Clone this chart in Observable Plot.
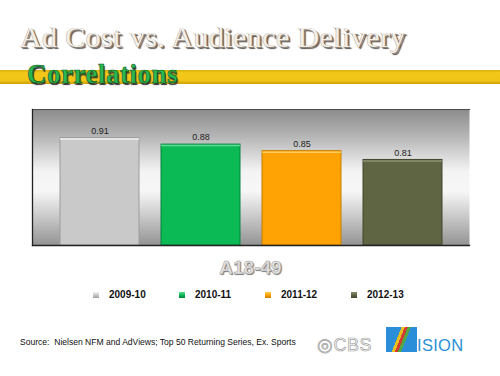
<!DOCTYPE html>
<html>
<head>
<meta charset="utf-8">
<script src="https://cdn.jsdelivr.net/npm/d3@7"></script>
<script src="https://cdn.jsdelivr.net/npm/@observablehq/plot@0.6"></script>
<style>
  html, body { margin: 0; padding: 0; background: #ffffff; }
  #page { position: relative; width: 500px; height: 376px; overflow: hidden; background: #fff; font-family: "Liberation Sans", Arial, sans-serif; }
  #title { position: absolute; left: 20px; top: 22px; font-family: "Liberation Serif", "Times New Roman", serif; font-size: 30px; line-height: 30px; letter-spacing: 0.4px; color: #f2eee8; white-space: nowrap;
    text-shadow: 1px 1px 0 #8c827a, 2px 2px 1px #5a514b, -0.5px -0.5px 0 #b8b0a8; }
  #band { position: absolute; left: 0; top: 70px; width: 500px; height: 14px; background: linear-gradient(#d9ae0a, #f3c81a 20%, #f2c417 75%, #c89f08); }
  #subtitle { position: absolute; left: 27px; top: 61px; font-family: "Liberation Serif", "Times New Roman", serif; font-weight: bold; font-size: 27px; line-height: 27px; letter-spacing: 0.5px; color: #2bb64f; white-space: nowrap;
    -webkit-text-stroke: 0.6px #0b5a24; text-shadow: 1px 1.5px 1px #333; }
  #chart { position: absolute; left: 0; top: 100px; }
  #group { position: absolute; left: 0; width: 501px; top: 258px; text-align: center; font-family: "Liberation Sans", Arial, sans-serif; font-weight: bold; font-size: 19px; line-height: 20px; color: #e2e2e2;
    -webkit-text-stroke: 0.5px #9a9a9a; text-shadow: 1px 1px 1px #777; }
  #legend { position: absolute; left: 93px; top: 288px; display: flex; }
  .item { width: 86px; display: flex; align-items: center; height: 13px; }
  .sw { width: 6px; height: 6px; margin-right: 10px; }
  .lab { font-family: "Liberation Sans", Arial, sans-serif; font-weight: bold; font-size: 10px; color: #111; }
  #source { position: absolute; left: 20px; top: 337px; font-family: "Liberation Sans", Arial, sans-serif; font-size: 8.55px; color: #111; white-space: nowrap; }
  #cbs { position: absolute; left: 317px; top: 336px; font-family: "Liberation Sans", Arial, sans-serif; font-size: 18px; line-height: 18px; color: #fff; -webkit-text-stroke: 0.7px #a0a0a0; white-space: nowrap; letter-spacing: 0.5px; }
  #vbox { position: absolute; left: 386px; top: 327px; width: 31px; height: 25px;
    background: linear-gradient(112deg, #2a8fd8 0 38%, #e8c020 38% 46%, #d43a30 46% 53%, #53a844 53% 61%, #2a8fd8 61% 100%); }
  #ision { position: absolute; left: 417px; top: 336px; font-family: "Liberation Sans", Arial, sans-serif; font-size: 16.5px; line-height: 18px; color: #2a8fd8; letter-spacing: 0.3px; }
</style>
</head>
<body>
<div id="page">
  <div id="title">Ad Cost vs. Audience Delivery</div>
  <div id="band"></div>
  <div id="subtitle">Correlations</div>
  <div id="chart"></div>
  <div id="group"></div>
  <div id="legend"></div>
  <div id="source">Source:&nbsp; Nielsen NFM and AdViews; Top 50 Returning Series, Ex. Sports</div>
  <div id="cbs">◎CBS</div>
  <div id="vbox"></div>
  <div id="ision">ISION</div>
</div>
<script>
const groupLabel = "A18-49";
const seasons = ["2009-10", "2010-11", "2011-12", "2012-13"];
const correlations = [0.91, 0.88, 0.85, 0.81];
const barColors = ["#c9c9c9", "#0bb955", "#ffa304", "#5f6443"];
const edgeColors = ["#9c9c9c", "#07843d", "#c77d00", "#44472f"];
const topColors = ["#f0f0f0", "#5fdc92", "#ffcd5a", "#8c8f70"];

const data = seasons.map((s, i) => ({season: s, value: correlations[i]}));

const chart = Plot.plot({
  width: 500,
  height: 175,
  marginTop: 9,
  marginBottom: 30,
  marginLeft: 32,
  marginRight: 31,
  x: {domain: seasons, paddingInner: 0.22, paddingOuter: 0.27, axis: null},
  y: {domain: [0.42, 1.04], clamp: true, axis: null},
  color: {domain: seasons, range: barColors},
  marks: [
    Plot.frame({fill: "url(#bggrad)", stroke: null}),
    Plot.frame({anchor: "top", stroke: "#4c4c4c", strokeWidth: 1.2}),
    Plot.barY(data, {x: "season", y: "value", fill: "season", stroke: (d) => edgeColors[seasons.indexOf(d.season)], strokeWidth: 1}),
    Plot.tickY(data, {x: "season", y: "value", stroke: (d) => topColors[seasons.indexOf(d.season)], strokeWidth: 1.5, dy: 1}),
    Plot.text(data, {x: "season", y: "value", text: (d) => d.value.toFixed(2), dy: -7, fontSize: 9, fill: "#222", fontFamily: "Liberation Sans, Arial, sans-serif"}),
    Plot.frame({anchor: "bottom", stroke: "#222", strokeWidth: 1.3}),
    Plot.frame({anchor: "left", stroke: "#222", strokeWidth: 1.3})
  ]
});

chart.insertAdjacentHTML("afterbegin",
  `<defs><linearGradient id="bggrad" x1="0" y1="0" x2="0" y2="1">
     <stop offset="0" stop-color="#8c8c8c"/>
     <stop offset="0.2" stop-color="#b6b6b6"/>
     <stop offset="0.45" stop-color="#f3f3f3"/>
     <stop offset="0.6" stop-color="#f7f7f7"/>
     <stop offset="0.8" stop-color="#c6c6c6"/>
     <stop offset="1" stop-color="#939393"/>
   </linearGradient></defs>`);
document.getElementById("chart").appendChild(chart);

document.getElementById("group").textContent = groupLabel;

const legend = document.getElementById("legend");
seasons.forEach((s, i) => {
  const item = document.createElement("div");
  item.className = "item";
  const sw = document.createElement("div");
  sw.className = "sw";
  sw.style.background = `linear-gradient(${topColors[i]}, ${barColors[i]} 50%, ${edgeColors[i]})`;
  const lab = document.createElement("span");
  lab.className = "lab";
  lab.textContent = s;
  item.appendChild(sw);
  item.appendChild(lab);
  legend.appendChild(item);
});
</script>
</body>
</html>
